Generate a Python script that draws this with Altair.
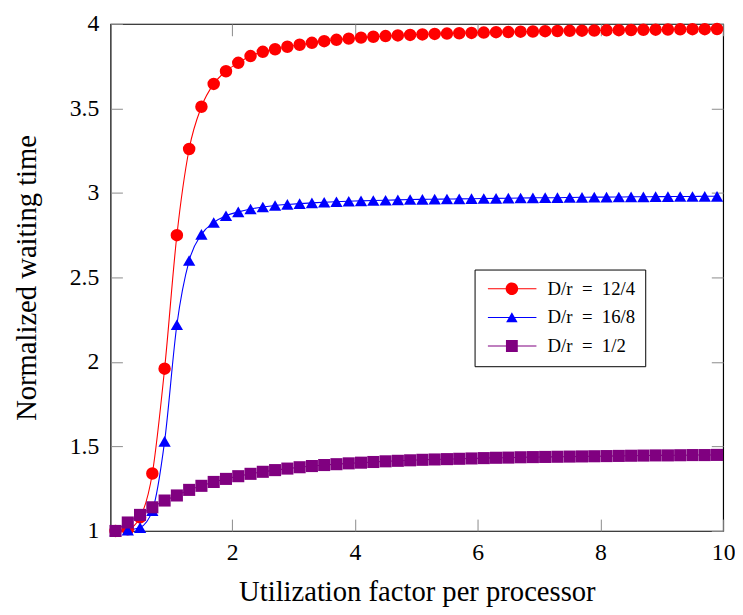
import altair as alt
import pandas as pd

# ---------------- data ----------------
x_vals = [0.1, 0.3, 0.5, 0.7, 0.9, 1.1, 1.3, 1.5, 1.7, 1.9,
          2.1, 2.3, 2.5, 2.7, 2.9, 3.1, 3.3, 3.5, 3.7, 3.9,
          4.1, 4.3, 4.5, 4.7, 4.9, 5.1, 5.3, 5.5, 5.7, 5.9,
          6.1, 6.3, 6.5, 6.7, 6.9, 7.1, 7.3, 7.5, 7.7, 7.9,
          8.1, 8.3, 8.5, 8.7, 8.9, 9.1, 9.3, 9.5, 9.7, 9.9]

red_vals = [1.00, 1.01, 1.08, 1.34, 1.96, 2.75, 3.26, 3.51, 3.645, 3.72,
            3.77, 3.81, 3.835, 3.85, 3.865, 3.877, 3.888, 3.898, 3.906, 3.913,
            3.919, 3.924, 3.928, 3.932, 3.935, 3.938, 3.941, 3.943, 3.945, 3.947,
            3.949, 3.951, 3.952, 3.954, 3.955, 3.957, 3.958, 3.959, 3.960, 3.961,
            3.962, 3.963, 3.964, 3.965, 3.966, 3.967, 3.968, 3.969, 3.969, 3.970]

blue_vals = [1.00, 1.005, 1.02, 1.12, 1.53, 2.22, 2.60, 2.755, 2.825, 2.865,
             2.888, 2.905, 2.917, 2.926, 2.932, 2.937, 2.941, 2.945, 2.948, 2.951,
             2.953, 2.955, 2.957, 2.959, 2.961, 2.962, 2.963, 2.964, 2.965, 2.966,
             2.967, 2.968, 2.969, 2.970, 2.971, 2.972, 2.972, 2.973, 2.974, 2.975,
             2.975, 2.976, 2.977, 2.977, 2.978, 2.978, 2.979, 2.979, 2.980, 2.980]

purple_vals = [1.00, 1.05, 1.095, 1.14, 1.18, 1.21, 1.243, 1.267, 1.29, 1.308,
               1.324, 1.338, 1.350, 1.360, 1.369, 1.377, 1.384, 1.390, 1.395, 1.400,
               1.404, 1.408, 1.412, 1.415, 1.418, 1.421, 1.423, 1.425, 1.427, 1.429,
               1.431, 1.433, 1.434, 1.436, 1.437, 1.438, 1.439, 1.440, 1.441, 1.442,
               1.443, 1.444, 1.445, 1.446, 1.447, 1.447, 1.448, 1.449, 1.449, 1.450]

series_keys = ["a", "b", "c"]
series_labels = ["D/r\u2002=\u200212/4", "D/r\u2002=\u200216/8", "D/r\u2002=\u20021/2"]
series_colors = ["#ff0000", "#0000ff", "#800080"]
series_shapes = ["circle", "triangle-up", "square"]
series_sizes = [160, 150, 175]
series_values = [red_vals, blue_vals, purple_vals]

x_ticks = [2, 4, 6, 8, 10]
y_ticks = [1, 1.5, 2, 2.5, 3, 3.5, 4]

# ---------------- table ----------------
rows = []
for key, vals in zip(series_keys, series_values):
    for xv, yv in zip(x_vals, vals):
        rows.append({"series": key, "x": xv, "y": yv})
df = pd.DataFrame(rows)

FONT = "Liberation Serif"

# legend glyphs: a line with the marker in its middle (unit coords, s = 6px)
LINE = "M-1,-0.085H7.2V0.085H-1Z "
legend_paths = [
    LINE + "M4.11,0A1.06,1.06 0 1,1 1.99,0A1.06,1.06 0 1,1 4.11,0Z",
    LINE + "M3.05,-0.85L4.02,0.82L2.08,0.82Z",
    LINE + "M2.05,-1H4.05V1H2.05Z",
]

label_expr = "datum.value === '%s' ? '%s' : datum.value === '%s' ? '%s' : '%s'" % (
    series_keys[0], series_labels[0], series_keys[1], series_labels[1], series_labels[2])

xscale = alt.Scale(domain=[0.02, 10], nice=False, zero=False)
yscale = alt.Scale(domain=[1, 4], nice=False, zero=False)
cscale = alt.Scale(domain=series_keys, range=series_colors)
sscale = alt.Scale(domain=series_keys, range=series_shapes)
zscale = alt.Scale(domain=series_keys, range=series_sizes)
lscale = alt.Scale(domain=series_keys, range=legend_paths)

TICK = 12


def make_legend():
    return alt.Legend(
        title=None, orient="none", legendX=369, legendY=249,
        labelExpr=label_expr, labelFont=FONT, labelFontSize=19, labelColor="black",
        symbolSize=144, symbolStrokeWidth=0, labelOffset=45, rowPadding=9,
        padding=10, fillColor="white", strokeColor="black",
    )


lines = alt.Chart(df).mark_line(strokeWidth=1.1, interpolate="monotone").encode(
    x=alt.X("x:Q", scale=xscale,
            axis=alt.Axis(orient="bottom", values=x_ticks, format=".1~f",
                          title="Utilization factor per processor",
                          offset=-TICK, tickSize=TICK,
                          labelFlush=False, labelPadding=10, titlePadding=14)),
    y=alt.Y("y:Q", scale=yscale,
            axis=alt.Axis(orient="left", values=y_ticks, format=".1~f",
                          title="Normalized waiting time",
                          offset=-TICK, tickSize=TICK,
                          labelPadding=12, titlePadding=28)),
    color=alt.Color("series:N", scale=cscale, legend=None),
    detail="series:N",
)

points = alt.Chart(df).mark_point(filled=True, opacity=1).encode(
    x=alt.X("x:Q", scale=xscale,
            axis=alt.Axis(orient="top", values=x_ticks, labels=False, title=None,
                          offset=-TICK, tickSize=TICK)),
    y=alt.Y("y:Q", scale=yscale,
            axis=alt.Axis(orient="right", values=y_ticks, labels=False, title=None,
                          offset=-TICK, tickSize=TICK)),
    color=alt.Color("series:N", scale=cscale, legend=None),
    shape=alt.Shape("series:N", scale=sscale, legend=None),
    size=alt.Size("series:N", scale=zscale, legend=None),
)

legend_layer = alt.Chart(df).transform_filter("false").mark_point(
    filled=True, opacity=1
).encode(
    color=alt.Color("series:N", scale=cscale, legend=make_legend()),
    shape=alt.Shape("series:N", scale=lscale, legend=make_legend()),
)

chart = alt.layer(lines, points, legend_layer).resolve_axis(
    x="independent", y="independent"
).resolve_scale(
    shape="independent", color="independent"
).properties(
    width=621, height=514,
    padding={"left": 5, "top": 0, "right": 0, "bottom": 0},
).configure_axis(
    grid=False, domain=False, tickColor="#8a8a8a", tickWidth=1,
    labelFont=FONT, labelFontSize=24, labelColor="black",
    titleFont=FONT, titleFontSize=29, titleFontWeight="normal", titleColor="black",
).configure_view(
    stroke="black", strokeWidth=1.2
)

chart.save("out.html", embed_options={"renderer": "svg", "actions": False})
